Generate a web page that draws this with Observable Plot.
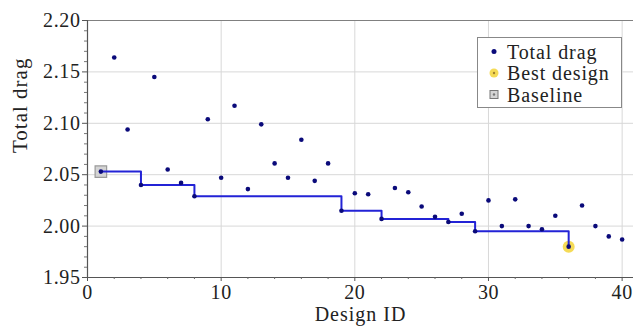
<!DOCTYPE html>
<html>
<head>
<meta charset="utf-8">
<script src="https://cdn.jsdelivr.net/npm/d3@7"></script>
<script src="https://cdn.jsdelivr.net/npm/@observablehq/plot@0.6"></script>
<style>
  html, body { margin: 0; padding: 0; background: #fff; }
  #chart svg { display: block; }
</style>
</head>
<body>
<div id="chart"></div>
<script>
// Data
const designIds = [1,2,3,4,5,6,7,8,9,10,11,12,13,14,15,16,17,18,19,20,21,22,23,24,25,26,27,28,29,30,31,32,33,34,35,36,37,38,39,40];
const totalDrag = [2.053,2.164,2.094,2.040,2.145,2.055,2.042,2.029,2.104,2.047,2.117,2.036,2.099,2.061,2.047,2.084,2.044,2.061,2.015,2.032,2.031,2.007,2.037,2.033,2.019,2.009,2.004,2.012,1.995,2.025,2.000,2.026,2.000,1.997,2.010,1.980,2.020,2.000,1.990,1.987];
const baselineId = 1;
const bestId = 36;
const xTicks = [0, 10, 20, 30, 40];
const xMinorTicks = [2,4,6,8,12,14,16,18,22,24,26,28,32,34,36,38];
const yTicks = [1.95, 2.00, 2.05, 2.10, 2.15, 2.20];
const yMinorTicks = [1.96,1.97,1.98,1.99,2.01,2.02,2.03,2.04,2.06,2.07,2.08,2.09,2.11,2.12,2.13,2.14,2.16,2.17,2.18,2.19];
const legendLabels = ["Total drag", "Best design", "Baseline"];

const pts = designIds.map((id, i) => ({id, drag: totalDrag[i]}));
// best-so-far staircase up to the best design
let cur = Infinity;
const stair = pts.filter(d => d.id <= bestId).map(d => { cur = Math.min(cur, d.drag); return {id: d.id, best: cur}; });
const basePt = pts.filter(d => d.id === baselineId);
const bestPt = pts.filter(d => d.id === bestId);

const FONT = "Liberation Serif";
const plot = Plot.plot({
  width: 633,
  height: 331,
  marginTop: 20,
  marginBottom: 54,
  marginLeft: 87,
  marginRight: 0,
  style: {fontFamily: FONT, fontSize: "18px", color: "#333", background: "#fff"},
  x: {domain: [0, 40.85]},
  y: {domain: [1.95, 2.20]},
  marks: [
    Plot.gridX(xTicks.slice(1), {stroke: "#d8d8d8", strokeOpacity: 1, strokeWidth: 1}),
    Plot.gridY(yTicks.slice(1, -1), {stroke: "#d8d8d8", strokeOpacity: 1, strokeWidth: 1}),
    Plot.ruleY([2.20], {stroke: "#808080", strokeWidth: 1.2}),
    Plot.ruleX([0], {stroke: "#555", strokeWidth: 1.2}),
    Plot.ruleY([1.95], {stroke: "#555", strokeWidth: 1.2}),
    Plot.axisX({ticks: xMinorTicks, tickSize: 2, tickPadding: 0, text: null, stroke: "#666", label: null}),
    Plot.axisX({ticks: xTicks, tickSize: 4, tickPadding: 3, stroke: "#555", fill: "#222", fontSize: 20, label: null, className: "tk"}),
    Plot.axisY({ticks: yMinorTicks, tickSize: 3, text: null, stroke: "#777", label: null}),
    Plot.axisY({ticks: yTicks, tickSize: 5, tickPadding: 2, stroke: "#555", fill: "#222", fontSize: 20, tickFormat: d3.format(".2f"), label: null, className: "tk"}),
    Plot.text(["Design ID"], {frameAnchor: "bottom", dy: 29, lineAnchor: "top", fontSize: 20, fill: "#222", className: "ttl"}),
    Plot.text(["Total drag"], {frameAnchor: "left", dx: -67, dy: 4, rotate: -90, fontSize: 21, fill: "#222", className: "ttl"}),
    Plot.dot(basePt, {x: "id", y: "drag", symbol: "square", r: 6.5, fill: "#d4d4d4", stroke: "#9a9a9a", strokeWidth: 1.2}),
    Plot.dot(bestPt, {x: "id", y: "drag", r: 6, fill: "#f2cf1e", fillOpacity: 0.75}),
    Plot.line(stair, {x: "id", y: "best", curve: "step-after", stroke: "#2323d6", strokeWidth: 2}),
    Plot.dot(pts, {x: "id", y: "drag", r: 2.3, fill: "#0a0a7a"})
  ]
});

const svg = d3.select(plot);
// force the serif face on every text of the plot
svg.selectAll("text").style("font-family", FONT);
svg.selectAll("text").style("letter-spacing", "0.6px");
svg.selectAll(".ttl text").style("letter-spacing", "1px");

// legend box drawn inside the svg
const g = svg.append("g").attr("font-size", 20).attr("text-anchor", "start");
g.append("rect").attr("x", 477.5).attr("y", 37.5).attr("width", 144).attr("height", 70)
  .attr("fill", "#fff").attr("stroke", "#888").attr("stroke-width", 1);
const rowY = [51.5, 73, 94.5];
g.append("circle").attr("cx", 494).attr("cy", rowY[0]).attr("r", 2.5).attr("fill", "#0a0a7a");
g.append("circle").attr("cx", 494).attr("cy", rowY[1]).attr("r", 4.5).attr("fill", "#f2cf1e").attr("fill-opacity", 0.75);
g.append("circle").attr("cx", 494).attr("cy", rowY[1]).attr("r", 1.2).attr("fill", "#a08030");
g.append("rect").attr("x", 490).attr("y", rowY[2] - 4).attr("width", 8).attr("height", 8).attr("fill", "#d4d4d4").attr("stroke", "#777");
g.append("circle").attr("cx", 494).attr("cy", rowY[2]).attr("r", 1.2).attr("fill", "#777");
legendLabels.forEach((t, i) => {
  g.append("text").attr("x", 507).attr("y", rowY[i]).attr("dy", "0.35em").attr("fill", "#222")
    .attr("text-anchor", "start").style("font-family", FONT).style("letter-spacing", "0.9px").text(t);
});

document.getElementById("chart").append(plot);
</script>
</body>
</html>
